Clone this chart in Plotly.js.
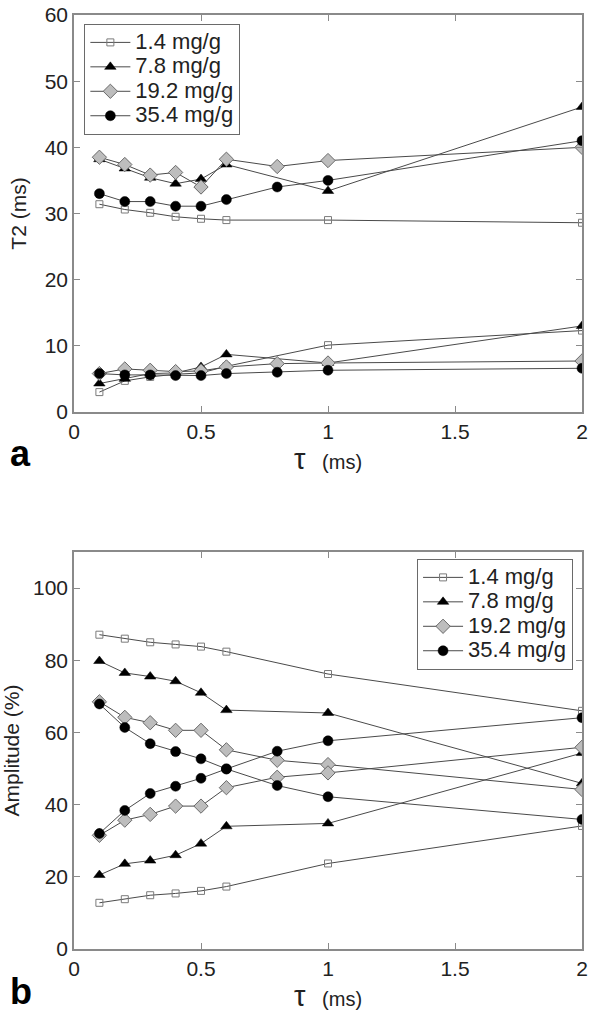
<!DOCTYPE html>
<html>
<head>
<meta charset="utf-8">
<script src="https://cdn.plot.ly/plotly-3.0.1.min.js"></script>
<style>html,body{margin:0;padding:0;background:#fff;}#chart{width:600px;height:1014px;}</style>
</head>
<body>
<div id="chart"></div>
<script>
// tau values (ms)
const tauA = [0.1, 0.2, 0.3, 0.4, 0.5, 0.6, 1.0, 2.0];          // 1.4 & 7.8 mg/g
const tauB = [0.1, 0.2, 0.3, 0.4, 0.5, 0.6, 0.8, 1.0, 2.0];     // 19.2 & 35.4 mg/g
const seriesNames = ["1.4 mg/g", "7.8 mg/g", "19.2 mg/g", "35.4 mg/g"];

// Panel a: T2 (ms), long and short components
const t2_14_long  = [31.4, 30.6, 30.1, 29.5, 29.2, 29.0, 29.0, 28.6];
const t2_14_short = [3.0, 4.7, 5.3, 5.7, 5.9, 6.9, 10.1, 12.3];
const t2_78_long  = [38.2, 36.8, 35.4, 34.5, 35.2, 37.4, 33.4, 46.1];
const t2_78_short = [4.3, 5.0, 5.8, 5.9, 6.8, 8.7, 7.4, 13.0];
const t2_192_long  = [38.5, 37.4, 35.8, 36.2, 34.0, 38.2, 37.1, 38.0, 40.0];
const t2_192_short = [5.8, 6.5, 6.3, 6.1, 6.2, 6.8, 7.3, 7.4, 7.7];
const t2_354_long  = [33.0, 31.8, 31.8, 31.1, 31.1, 32.1, 34.0, 35.0, 41.0];
const t2_354_short = [5.8, 5.6, 5.6, 5.5, 5.5, 5.8, 6.0, 6.3, 6.6];

// Panel b: Amplitude (%), long and short components
const amp_14_long  = [87.1, 86.0, 85.0, 84.4, 83.8, 82.4, 76.2, 66.0];
const amp_14_short = [12.8, 13.8, 14.9, 15.4, 16.1, 17.3, 23.7, 34.1];
const amp_78_long  = [79.8, 76.5, 75.5, 74.2, 71.0, 66.2, 65.4, 45.9];
const amp_78_short = [20.5, 23.6, 24.5, 26.0, 29.2, 34.0, 34.8, 54.3];
const amp_192_long  = [68.5, 64.2, 62.7, 60.6, 60.6, 55.2, 52.3, 51.1, 44.2];
const amp_192_short = [31.5, 35.7, 37.3, 39.6, 39.6, 44.7, 47.6, 48.8, 55.9];
const amp_354_long  = [67.9, 61.4, 56.9, 54.7, 52.7, 49.9, 45.3, 42.2, 35.9];
const amp_354_short = [32.0, 38.4, 43.1, 45.1, 47.3, 49.9, 54.8, 57.7, 64.1];

const xTicks = [0, 0.5, 1, 1.5, 2];
const yTicksA = [0, 10, 20, 30, 40, 50, 60];
const yTicksB = [0, 20, 40, 60, 80, 100];

const markerStyles = [
  {symbol: 'square-open', size: 7, color: '#7a7a7a', line: {width: 1, color: '#7a7a7a'}},
  {symbol: 'triangle-up', size: 10, color: '#000000', line: {width: 0.5, color: '#000'}},
  {symbol: 'diamond', size: 11, color: '#bdbdbd', line: {width: 1, color: '#6a6a6a'}},
  {symbol: 'circle', size: 10, color: '#000000', line: {width: 0.5, color: '#000'}}
];

const FONT = 'Liberation Sans, Arial, sans-serif';

function joined(x, a, b) {
  return {x: x.concat([null], x), y: a.concat([null], b)};
}
function legendLabel(s) {
  return '<span style="font-size:22px">' + s + '</span>';
}

const panelA = [
  joined(tauA, t2_14_long, t2_14_short),
  joined(tauA, t2_78_long, t2_78_short),
  joined(tauB, t2_192_long, t2_192_short),
  joined(tauB, t2_354_long, t2_354_short)
];
const panelB = [
  joined(tauA, amp_14_long, amp_14_short),
  joined(tauA, amp_78_long, amp_78_short),
  joined(tauB, amp_192_long, amp_192_short),
  joined(tauB, amp_354_long, amp_354_short)
];

const traces = [];
panelA.forEach((d, i) => traces.push({
  x: d.x, y: d.y, type: 'scatter', mode: 'lines+markers', name: legendLabel(seriesNames[i]),
  xaxis: 'x', yaxis: 'y', legend: 'legend',
  line: {color: '#4a4a4a', width: 1}, marker: markerStyles[i], connectgaps: false
}));
panelB.forEach((d, i) => traces.push({
  x: d.x, y: d.y, type: 'scatter', mode: 'lines+markers', name: legendLabel(seriesNames[i]),
  xaxis: 'x2', yaxis: 'y2', legend: 'legend2',
  line: {color: '#4a4a4a', width: 1}, marker: markerStyles[i], connectgaps: false
}));

const axCommon = {
  showline: true, linecolor: '#8a8a8a', linewidth: 1.5, mirror: 'ticks',
  ticks: 'inside', ticklen: 6, tickcolor: '#8a8a8a', tickwidth: 1,
  showgrid: false, zeroline: false,
  tickfont: {family: FONT, size: 21, color: '#222'}
};

const xTitle = {
  text: '<span style="font-size:29px">τ</span>&nbsp;&nbsp;&nbsp;(ms)',
  font: {family: FONT, size: 20, color: '#222'}, standoff: 10
};

const legendCommon = {
  bgcolor: '#fff', bordercolor: '#6a6a6a', borderwidth: 1.2,
  font: {family: FONT, size: 16.5, color: '#222'}, tracegroupgap: 0, itemwidth: 40
};

const layout = {
  width: 600, height: 1014,
  margin: {l: 74, r: 18, t: 15, b: 65},
  paper_bgcolor: '#fff', plot_bgcolor: '#fff',
  font: {family: FONT, color: '#222'},
  showlegend: true,
  xaxis: Object.assign({}, axCommon, {domain: [0, 1], range: [0, 2], tickvals: xTicks, ticktext: xTicks.map(String), anchor: 'y', title: xTitle}),
  yaxis: Object.assign({}, axCommon, {domain: [0.575, 1], range: [0, 60], tickvals: yTicksA, anchor: 'x',
    title: {text: 'T2 (ms)', font: {family: FONT, size: 21, color: '#222'}, standoff: 12}}),
  xaxis2: Object.assign({}, axCommon, {domain: [0, 1], range: [0, 2], tickvals: xTicks, ticktext: xTicks.map(String), anchor: 'y2', title: xTitle}),
  yaxis2: Object.assign({}, axCommon, {domain: [0, 0.425], range: [0, 110], tickvals: yTicksB, anchor: 'x2',
    title: {text: 'Amplitude (%)', font: {family: FONT, size: 21, color: '#222'}, standoff: 12}}),
  legend: Object.assign({}, legendCommon, {x: 0.02, y: 0.9904, xanchor: 'left', yanchor: 'top'}),
  legend2: Object.assign({}, legendCommon, {x: 0.982, y: 0.4176, xanchor: 'right', yanchor: 'top'}),
  annotations: [
    {text: '<b>a</b>', xref: 'paper', yref: 'paper', x: -0.13, y: 0.531, xanchor: 'left', yanchor: 'middle',
     showarrow: false, font: {family: FONT, size: 36, color: '#000'}},
    {text: '<b>b</b>', xref: 'paper', yref: 'paper', x: -0.13, y: -0.045, xanchor: 'left', yanchor: 'middle',
     showarrow: false, font: {family: FONT, size: 36, color: '#000'}}
  ]
};

Plotly.newPlot('chart', traces, layout, {displayModeBar: false, responsive: false});
</script>
</body>
</html>
